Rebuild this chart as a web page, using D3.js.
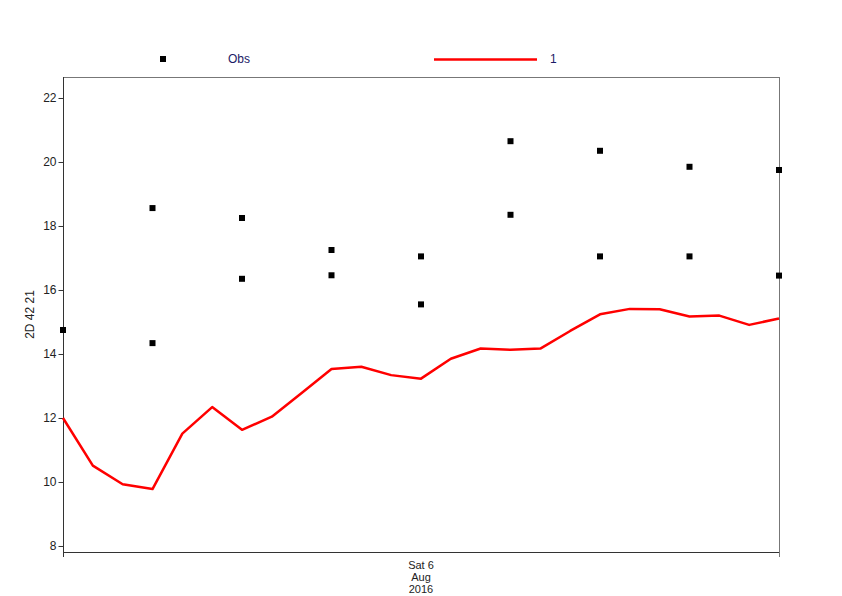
<!DOCTYPE html>
<html><head><meta charset="utf-8">
<script src="https://cdn.jsdelivr.net/npm/d3@7"></script>
<style>body{margin:0;background:#fff}svg{display:block}text{font-family:"Liberation Sans",Arial,sans-serif}</style>
</head><body><svg width="842" height="596"></svg>
<script>
// hours relative to Sat 6 Aug 2016 00:00
const modelHours = d3.range(-12, 13);
const modelValues = [12.0,10.51,9.93,9.78,11.51,12.34,11.63,12.04,12.78,13.53,13.6,13.34,13.23,13.85,14.17,14.13,14.17,14.72,15.24,15.41,15.4,15.17,15.2,14.91,15.11];
const obsHours = [-12,-9,-9,-6,-6,-3,-3,0,0,3,3,6,6,9,9,12,12];
const obsValues = [14.75,18.56,14.34,18.25,16.35,17.25,16.46,17.05,15.55,20.65,18.35,20.35,17.05,19.85,17.05,19.75,16.45];
const yTicks = [8,10,12,14,16,18,20,22];
const xTickLabel = ["Sat 6","Aug","2016","|"];
const yLabel = "2D 42 21";
const legendObs = "Obs", legendModel = "1";

const svg = d3.select("svg");
const L=63,R=779,T=77,B=552;
const x = d3.scaleLinear().domain([-12,12]).range([L,R]);
const y = d3.scaleLinear().domain([7.8125, 22.656]).range([B,T]);

// frame top/right
svg.append("line").attr("x1",L).attr("x2",R).attr("y1",T+0.5).attr("y2",T+0.5).attr("stroke","#777");
svg.append("line").attr("x1",R+0.5).attr("x2",R+0.5).attr("y1",T).attr("y2",B+5).attr("stroke","#777");

const ya = svg.append("g").attr("transform",`translate(${L+0.5},0)`)
  .call(d3.axisLeft(y).tickValues(yTicks).tickSize(5).tickPadding(2));
ya.select(".domain").attr("stroke","#333").attr("d",`M0,${T}V${B+5}`);
ya.selectAll(".tick line").attr("stroke","#333");
ya.selectAll(".tick text").attr("font-size",12).attr("fill","#222").attr("font-family","Liberation Sans, Arial, sans-serif");

const xa = svg.append("g").attr("transform",`translate(0,${B+0.5})`)
  .call(d3.axisBottom(x).tickValues([0]).tickSize(0).tickFormat(""));
xa.select(".domain").attr("stroke","#333").attr("d",`M${L},0H${R}`);
const xt = svg.append("text").attr("x",x(0)).attr("y",B+17).attr("text-anchor","middle")
  .attr("font-size",11).attr("fill","#222");
xTickLabel.forEach((t,i)=>xt.append("tspan").attr("x",x(0)).attr("dy",i?12:0).text(t));

svg.append("text").attr("transform",`translate(34,${(T+B)/2}) rotate(-90)`)
  .attr("text-anchor","middle").attr("font-size",12).attr("fill","#222").text(yLabel);

const line = d3.line().x((d,i)=>x(modelHours[i])).y(d=>y(d));
svg.append("path").datum(modelValues).attr("d",line).attr("fill","none")
  .attr("stroke","#ff0000").attr("stroke-width",2.5).attr("stroke-linejoin","round");

svg.selectAll("rect.obs").data(obsValues).enter().append("rect").attr("class","obs")
  .attr("x",(d,i)=>x(obsHours[i])-3).attr("y",d=>y(d)-3).attr("width",6).attr("height",6).attr("fill","#000");

// legend
svg.append("rect").attr("x",160).attr("y",56).attr("width",6).attr("height",6).attr("fill","#000");
svg.append("text").attr("x",228).attr("y",63).attr("font-size",12).attr("fill","#1a1a66").text(legendObs);
svg.append("line").attr("x1",434).attr("x2",537).attr("y1",59.5).attr("y2",59.5).attr("stroke","#ff0000").attr("stroke-width",2.5);
svg.append("text").attr("x",550).attr("y",63).attr("font-size",12).attr("fill","#1a1a66").text(legendModel);
</script></body></html>
